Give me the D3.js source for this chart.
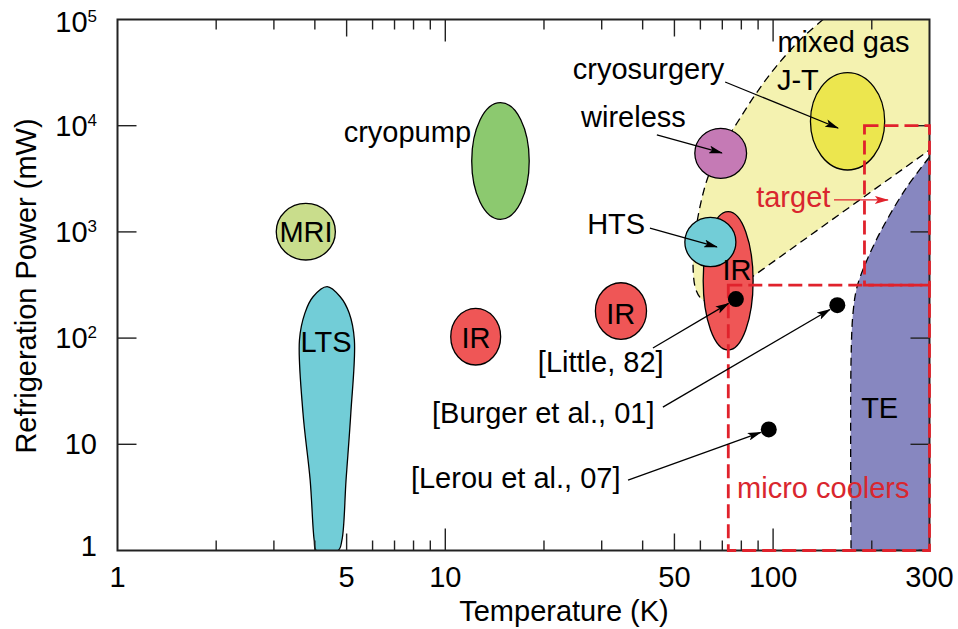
<!DOCTYPE html>
<html>
<head>
<meta charset="utf-8">
<script src="https://cdn.jsdelivr.net/npm/d3@7"></script>
<style>
  body { margin: 0; background: #ffffff; }
  svg { display: block; font-family: "Liberation Sans", Arial, Helvetica, sans-serif; }
</style>
</head>
<body>
<svg id="chart" width="958" height="629"></svg>
<script>
// ---------- axis ticks ----------
const tempMajorTicks = [1, 10, 100];
const tempMidTicks = [5, 50];
const tempMinorTicks = [2, 3, 4, 6, 7, 8, 9, 20, 30, 40, 60, 70, 80, 90, 200];
const tempTickLabels = [1, 5, 10, 50, 100, 300];
const powerTicks = [1, 10, 100, 1000, 10000, 100000];

// ---------- operating regions (temperature K, power mW) ----------
// boundary of the mixed-gas J-T region (curved left edge, then straight lower edge)
const mixedGasLeft = [[142, 1e5], [120.8, 64100], [101.3, 34900], [88.1, 19450], [77.6, 10600],
  [68.9, 5905], [63.3, 3289], [59.8, 1716], [57.8, 895], [57.0, 467], [58.2, 284], [61.1, 228], [68.9, 215]];
const mixedGasLower = [[86.2, 376], [300, 5905]];
// left boundary of the thermoelectric (TE) region
const teEdge = [[300, 5072], [256, 2648], [216.4, 1112], [193.4, 544], [180.3, 303],
  [175.3, 172], [172.9, 62.2], [172.9, 1]];
// outline of the LTS tear-drop
const ltsOutline = [[4.36, 305], [4.78, 245], [5.09, 172], [5.28, 96], [5.15, 19.7], [4.98, 4.61],
  [4.84, 1.26], [4.71, 1], [4.04, 1], [3.98, 1.26], [3.87, 4.61], [3.68, 19.7], [3.59, 96],
  [3.73, 172], [3.95, 245]];

// application ellipses: temperature span and power span
const ellipseNames = ["MRI", "cryopump", "IR-a", "IR-b", "J-T", "wireless", "IR-c", "HTS"];
const ellipseTemp = [[3.05, 4.62], [12.04, 18.03], [10.39, 14.75], [28.7, 41.1], [130, 219], [57.7, 83.0], [61.2, 86.9], [53.8, 77.0]];
const ellipsePower = [[544, 1855], [1314, 16470], [55.8, 190.8], [97.4, 332], [3828, 31570], [3196, 9452], [77.3, 1549], [470, 1373]];
const ellipseColors = ["#c9dd8c", "#8cc96f", "#ef5656", "#ef5656", "#ece64e", "#c57ab5", "#ef5656", "#72cdd7"];

// micro-cooler and target windows
const microWindow = { t: [73, 300], p: [1, 316] };
const targetWindow = { t: [190, 300], p: [316, 10000] };

// reported micro coolers
const refNames = ["[Little, 82]", "[Burger et al., 01]", "[Lerou et al., 07]"];
const refPoints = [[77, 233], [157, 204], [97, 13.8]];
const refLabelAt = [[29.8, 59.6], [19.9, 19.7], [16.4, 4.82]];
const refArrowFrom = [[43.0, 80.7], [46.1, 22.4], [36.1, 4.61]];

// text labels: [text, T, P, anchor, colour]
const labels = [
  ["MRI", 3.76, 1000, "middle", "#000"],
  ["cryopump", 11.98, 8725, "end", "#000"],
  ["LTS", 4.33, 92, "middle", "#000"],
  ["IR", 12.4, 100, "middle", "#000"],
  ["IR", 34.3, 170, "middle", "#000"],
  ["IR", 77.6, 438, "middle", "#000"],
  ["cryosurgery", 41.7, 34200, "middle", "#000"],
  ["mixed gas", 164, 61400, "middle", "#000"],
  ["J-T", 119, 26940, "middle", "#000"],
  ["wireless", 37.5, 12080, "middle", "#000"],
  ["HTS", 33.2, 1200, "middle", "#000"],
  ["target", 115.2, 2132, "middle", "#d9262e"],
  ["TE", 211.4, 22.2, "middle", "#000"],
  ["micro coolers", 142.3, 3.92, "middle", "#d9262e"]
];

// pointer arrows: [from T, from P, to T, to P, colour]
const pointers = [
  [71.4, 25790, 157.8, 9510, "#000"],   // cryosurgery
  [44.2, 8175, 69.8, 5535, "#000"],     // wireless
  [42.1, 1088, 67.4, 721, "#000"],      // HTS
  [153.4, 2000, 224, 2000, "#e0222c"]   // target
];

// ---------- scales ----------
const svg = d3.select("#chart");
const x = d3.scaleLog().domain([1, 300]).range([117.5, 929.5]);
const y = d3.scaleLog().domain([1, 1e5]).range([550.5, 19.5]);
const [xL, xR] = x.range();
const [yB, yT] = y.range();
const FS = 29;

const defs = svg.append("defs");
defs.append("clipPath").attr("id", "plotArea")
  .append("rect").attr("x", xL).attr("y", yT).attr("width", xR - xL).attr("height", yB - yT);

function addMarker(id, color) {
  defs.append("marker").attr("id", id)
    .attr("viewBox", "0 0 14 8").attr("refX", 13).attr("refY", 4)
    .attr("markerWidth", 14).attr("markerHeight", 8)
    .attr("markerUnits", "userSpaceOnUse").attr("orient", "auto")
    .append("path").attr("d", "M0,0 L14,4 L0,8 L3,4 Z").attr("fill", color);
}
addMarker("headBlack", "#000");
addMarker("headRed", "#e0222c");

const px = d => [x(d[0]), y(d[1])];
const plot = svg.append("g").attr("clip-path", "url(#plotArea)");

// ---------- mixed-gas region ----------
const curveLine = d3.line().x(d => x(d[0])).y(d => y(d[1])).curve(d3.curveCatmullRom.alpha(0.5));
const leftPath = curveLine(mixedGasLeft);
const lowerPath = mixedGasLower.map(d => "L" + px(d).join(",")).join("");
plot.append("path")
  .attr("d", leftPath + lowerPath + "L" + px([300, 1e5]).join(",") + "Z")
  .attr("fill", "#f4f2b0");
plot.append("path")
  .attr("d", leftPath + lowerPath)
  .attr("fill", "none").attr("stroke", "#000").attr("stroke-width", 1.3).attr("stroke-dasharray", "8,5");

// ---------- thermoelectric region ----------
const tePath = curveLine(teEdge);
plot.append("path")
  .attr("d", tePath + "L" + px([300, 1]).join(",") + "Z")
  .attr("fill", "#8787c0");
plot.append("path")
  .attr("d", tePath + "L" + px([300, 1]).join(","))
  .attr("fill", "none").attr("stroke", "#000").attr("stroke-width", 1.3).attr("stroke-dasharray", "8,5");

// ---------- application ellipses and LTS tear-drop ----------
function drawEllipse(i) {
  const [t0, t1] = ellipseTemp[i], [p0, p1] = ellipsePower[i];
  plot.append("ellipse")
    .attr("cx", (x(t0) + x(t1)) / 2).attr("cy", (y(p0) + y(p1)) / 2)
    .attr("rx", (x(t1) - x(t0)) / 2).attr("ry", (y(p0) - y(p1)) / 2)
    .attr("fill", ellipseColors[i]).attr("stroke", "#000").attr("stroke-width", 1.3);
}
drawEllipse(0); drawEllipse(1);
plot.append("path")
  .attr("d", d3.line().x(d => x(d[0])).y(d => y(d[1])).curve(d3.curveCatmullRomClosed.alpha(0.5))(ltsOutline))
  .attr("fill", "#72cdd7").attr("stroke", "#000").attr("stroke-width", 1.3);
for (let i = 2; i < ellipseNames.length; i++) drawEllipse(i);

// ---------- frame and ticks ----------
const axes = svg.append("g").attr("stroke", "#222").attr("stroke-width", 1.4);
function xTicks(values, len) {
  values.forEach(v => {
    axes.append("line").attr("x1", x(v)).attr("x2", x(v)).attr("y1", yB).attr("y2", yB - len);
    axes.append("line").attr("x1", x(v)).attr("x2", x(v)).attr("y1", yT).attr("y2", yT + len);
  });
}
xTicks(tempMajorTicks.filter(v => v > 1), 22);
xTicks(tempMidTicks, 17);
xTicks(tempMinorTicks, 10);
powerTicks.filter(v => v > 1 && v < 1e5).forEach(v => {
  axes.append("line").attr("x1", xL).attr("x2", xL + 19).attr("y1", y(v)).attr("y2", y(v));
  axes.append("line").attr("x1", xR).attr("x2", xR - 19).attr("y1", y(v)).attr("y2", y(v));
});
axes.append("rect").attr("x", xL).attr("y", yT).attr("width", xR - xL).attr("height", yB - yT)
  .attr("fill", "none").attr("stroke-width", 2);

// ---------- micro-cooler / target windows ----------
[microWindow, targetWindow].forEach(w => {
  svg.append("rect")
    .attr("x", x(w.t[0])).attr("y", y(w.p[1]))
    .attr("width", x(w.t[1]) - x(w.t[0])).attr("height", y(w.p[0]) - y(w.p[1]))
    .attr("fill", "none").attr("stroke", "#e0222c").attr("stroke-width", 2.8)
    .attr("stroke-dasharray", "14,6");
});

// ---------- reported coolers and their pointers ----------
refPoints.forEach((d, i) => {
  const [tx, ty] = px(d), [fx, fy] = px(refArrowFrom[i]);
  const len = Math.hypot(tx - fx, ty - fy), r = 8.5;
  svg.append("line")
    .attr("x1", fx).attr("y1", fy)
    .attr("x2", tx - (tx - fx) * r / len).attr("y2", ty - (ty - fy) * r / len)
    .attr("stroke", "#000").attr("stroke-width", 1.3).attr("marker-end", "url(#headBlack)");
  svg.append("circle").attr("cx", tx).attr("cy", ty).attr("r", 8).attr("fill", "#000");
  svg.append("text")
    .attr("x", x(refLabelAt[i][0])).attr("y", y(refLabelAt[i][1])).attr("dy", "0.35em")
    .attr("text-anchor", "middle").attr("font-size", FS).text(refNames[i]);
});

pointers.forEach(d => {
  svg.append("line")
    .attr("x1", x(d[0])).attr("y1", y(d[1])).attr("x2", x(d[2])).attr("y2", y(d[3]))
    .attr("stroke", d[4]).attr("stroke-width", 1.3)
    .attr("marker-end", d[4] === "#000" ? "url(#headBlack)" : "url(#headRed)");
});

// ---------- region / application labels ----------
labels.forEach(d => {
  svg.append("text")
    .attr("x", x(d[1])).attr("y", y(d[2])).attr("dy", "0.35em")
    .attr("text-anchor", d[3]).attr("fill", d[4]).attr("font-size", FS).text(d[0]);
});

// ---------- tick labels and axis titles ----------
tempTickLabels.forEach(v => {
  svg.append("text").attr("x", x(v)).attr("y", 587)
    .attr("text-anchor", "middle").attr("font-size", FS).text(v);
});
powerTicks.forEach((v, i) => {
  const e = Math.round(Math.log10(v));
  let base = y(v) + 10;
  if (i === 0) base = y(v) + 5;
  if (i === powerTicks.length - 1) base = y(v) + 12.5;
  const t = svg.append("text").attr("x", 97).attr("y", base)
    .attr("text-anchor", "end").attr("font-size", FS);
  if (e < 2) {
    t.text(String(v));
  } else {
    t.append("tspan").text("10");
    t.append("tspan").attr("dy", -10).attr("font-size", 17).text(e);
  }
});
svg.append("text").attr("x", 564).attr("y", 621)
  .attr("text-anchor", "middle").attr("font-size", FS).text("Temperature (K)");
svg.append("text").attr("transform", "translate(36,286) rotate(-90)")
  .attr("text-anchor", "middle").attr("font-size", FS).text("Refrigeration Power (mW)");
</script>
</body>
</html>
